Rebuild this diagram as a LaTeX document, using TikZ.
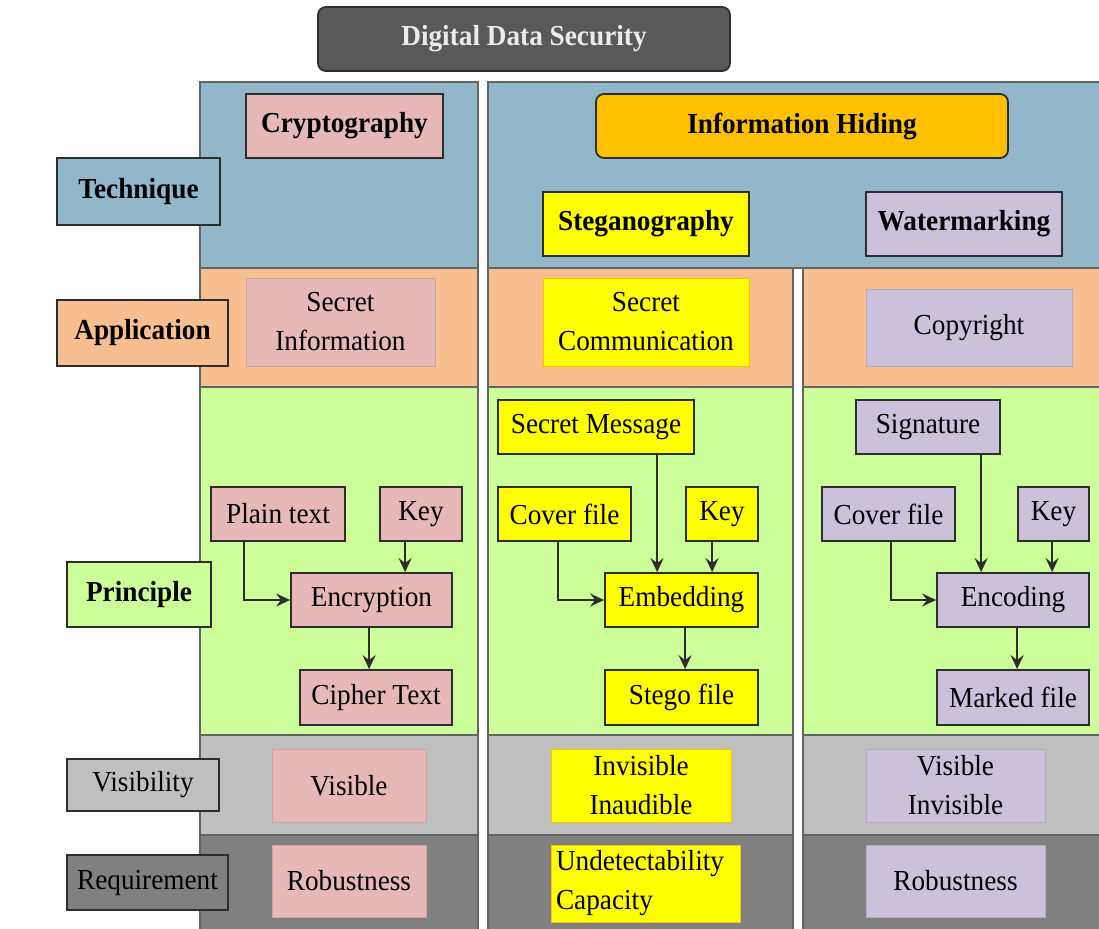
\documentclass[tikz,border=0pt]{standalone}
\usepackage{fontspec}
\setmainfont{Liberation Serif}[FakeStretch=0.94]
\usetikzlibrary{arrows.meta,calc}
\definecolor{techbg}{RGB}{146,183,203}
\definecolor{appbg}{RGB}{249,190,143}
\definecolor{prinbg}{RGB}{204,255,153}
\definecolor{visbg}{RGB}{191,191,191}
\definecolor{reqbg}{RGB}{128,128,128}
\definecolor{pinkc}{RGB}{230,185,184}
\definecolor{yellc}{RGB}{255,255,0}
\definecolor{lavc}{RGB}{204,193,218}
\definecolor{orangec}{RGB}{255,192,0}
\definecolor{titlec}{RGB}{89,89,89}
\definecolor{bandline}{RGB}{100,100,100}
\definecolor{boxline}{RGB}{45,45,45}
\begin{document}
\begin{tikzpicture}[x=1pt,y=-1pt,
  band/.style={draw=bandline,line width=1.2pt},
  bx/.style={draw=boxline,line width=1.8pt,inner sep=0pt,align=center,
    font=\fontsize{29}{39}\selectfont},
  hb/.style={bx,font=\bfseries\fontsize{29}{39}\selectfont},
  soft/.style={bx,line width=1pt,draw=#1!88!black,fill=#1},
  arr/.style={-{Stealth[length=14pt,width=13pt,inset=5pt]},line width=2.6pt,draw=boxline}]
\useasboundingbox (0,0) rectangle (1099,928);
\fill[white] (0,0) rectangle (1099,928);
% bands: column 1
\draw[band,fill=techbg] (200,82) rectangle (478,268);
\draw[band,fill=appbg] (200,268) rectangle (478,387);
\draw[band,fill=prinbg] (200,387) rectangle (478,735);
\draw[band,fill=visbg] (200,735) rectangle (478,835);
\draw[band,fill=reqbg] (200,835) rectangle (478,940);
% column 2
\draw[band,fill=techbg] (488,82) rectangle (1110,268);
\draw[band,fill=appbg] (488,268) rectangle (793,387);
\draw[band,fill=prinbg] (488,387) rectangle (793,735);
\draw[band,fill=visbg] (488,735) rectangle (793,835);
\draw[band,fill=reqbg] (488,835) rectangle (793,940);
\draw[band,fill=appbg] (803,268) rectangle (1110,387);
\draw[band,fill=prinbg] (803,387) rectangle (1110,735);
\draw[band,fill=visbg] (803,735) rectangle (1110,835);
\draw[band,fill=reqbg] (803,835) rectangle (1110,940);
% title
\node[hb,fill=titlec,draw=boxline,rounded corners=8pt,text=white!92!black,minimum width=412pt,minimum height=64pt] (title) at (524,39) {Digital Data Security};
% row labels
\node[hb,fill=techbg,minimum width=163pt,minimum height=67pt] (ltech) at (138.5,191.5) {Technique};
\node[hb,fill=appbg,minimum width=171pt,minimum height=66pt] (lapp) at (142.5,333) {Application};
\node[hb,fill=prinbg,minimum width=144pt,minimum height=65pt] (lprin) at (139,594.5) {Principle};
\node[bx,fill=visbg,minimum width=152pt,minimum height=52pt] (lvis) at (143,785) {Visibility};
\node[bx,fill=reqbg,minimum width=161pt,minimum height=55pt] (lreq) at (147.5,882.5) {Requirement};
% technique row
\node[hb,fill=pinkc,minimum width=197pt,minimum height=64pt] (crypto) at (344.5,126) {Cryptography};
\node[hb,fill=orangec,rounded corners=8pt,minimum width=412pt,minimum height=64pt] (ih) at (802,126) {Information Hiding};
\node[hb,fill=yellc,minimum width=206pt,minimum height=64pt] (steg) at (646,224) {Steganography};
\node[hb,fill=lavc,minimum width=196pt,minimum height=64pt] (wm) at (964,224) {Watermarking};
% application row
\node[soft=pinkc,minimum width=189pt,minimum height=88pt] (secinfo) at (340.5,322) {Secret\\Information};
\node[bx,line width=1pt,draw=orangec,fill=yellc,minimum width=206pt,minimum height=88pt] (seccomm) at (646,322) {Secret\\Communication};
\node[soft=lavc,minimum width=206pt,minimum height=77pt] (copy) at (969,327.5) {Copyright};
% principle: cryptography
\node[bx,fill=pinkc,minimum width=134pt,minimum height=54pt] (pt) at (278,514) {Plain text};
\node[bx,fill=pinkc,minimum width=82pt,minimum height=54pt] (k1) at (421,514) {Key};
\node[bx,fill=pinkc,minimum width=161pt,minimum height=54pt] (enc) at (371.5,600) {Encryption};
\node[bx,fill=pinkc,minimum width=152pt,minimum height=55pt] (ct) at (376,697.5) {Cipher Text};
% principle: steganography
\node[bx,fill=yellc,minimum width=196pt,minimum height=54pt] (sm) at (596,427) {Secret Message};
\node[bx,fill=yellc,minimum width=133pt,minimum height=54pt] (cf2) at (564.5,514) {Cover file};
\node[bx,fill=yellc,minimum width=72pt,minimum height=54pt] (k2) at (722,514) {Key};
\node[bx,fill=yellc,minimum width=153pt,minimum height=54pt] (emb) at (681.5,600) {Embedding};
\node[bx,fill=yellc,minimum width=153pt,minimum height=55pt] (sf) at (681.5,697.5) {Stego file};
% principle: watermarking
\node[bx,fill=lavc,minimum width=144pt,minimum height=54pt] (sig) at (928,427) {Signature};
\node[bx,fill=lavc,minimum width=133pt,minimum height=54pt] (cf3) at (888.5,514) {Cover file};
\node[bx,fill=lavc,minimum width=71pt,minimum height=54pt] (k3) at (1053.5,514) {Key};
\node[bx,fill=lavc,minimum width=152pt,minimum height=54pt] (encd) at (1013,600) {Encoding};
\node[bx,fill=lavc,minimum width=152pt,minimum height=55pt] (mf) at (1013,697.5) {Marked file};
% visibility row
\node[soft=pinkc,minimum width=154pt,minimum height=73pt] (vis1) at (349,785.5) {Visible};
\node[bx,line width=1pt,draw=orangec,fill=yellc,minimum width=180pt,minimum height=73pt] (vis2) at (641,785.5) {Invisible\\Inaudible};
\node[soft=lavc,minimum width=179pt,minimum height=73pt] (vis3) at (955.5,785.5) {Visible\\Invisible};
% requirement row
\node[soft=pinkc,minimum width=154pt,minimum height=72pt] (req1) at (349,881) {Robustness};
\node[bx,line width=1pt,draw=orangec,fill=yellc,align=left,text width=179pt,inner xsep=5pt,minimum height=77pt] (req2) at (645.5,883.5) {Undetectability\\Capacity};
\node[soft=lavc,minimum width=179pt,minimum height=72pt] (req3) at (955.5,881) {Robustness};
% arrows: cryptography
\coordinate (a1) at ($(pt.south west)+(34,0)$);
\draw[arr] (a1) |- (enc.west);
\coordinate (a2) at ($(k1.south west)+(26,0)$);
\draw[arr] (a2) -- (a2 |- enc.north);
\coordinate (a3) at ($(enc.south west)+(79,0)$);
\draw[arr] (a3) -- (a3 |- ct.north);
% arrows: steganography
\coordinate (b1) at ($(sm.south west)+(160,0)$);
\draw[arr] (b1) -- (b1 |- emb.north);
\coordinate (b2) at ($(cf2.south west)+(61,0)$);
\draw[arr] (b2) |- (emb.west);
\coordinate (b3) at ($(k2.south west)+(27,0)$);
\draw[arr] (b3) -- (b3 |- emb.north);
\coordinate (b4) at ($(emb.south west)+(81,0)$);
\draw[arr] (b4) -- (b4 |- sf.north);
% arrows: watermarking
\coordinate (c1) at ($(sig.south west)+(126,0)$);
\draw[arr] (c1) -- (c1 |- encd.north);
\coordinate (c2) at ($(cf3.south west)+(70,0)$);
\draw[arr] (c2) |- (encd.west);
\coordinate (c3) at ($(k3.south west)+(35,0)$);
\draw[arr] (c3) -- (c3 |- encd.north);
\coordinate (c4) at ($(encd.south west)+(81,0)$);
\draw[arr] (c4) -- (c4 |- mf.north);
\end{tikzpicture}
\end{document}
